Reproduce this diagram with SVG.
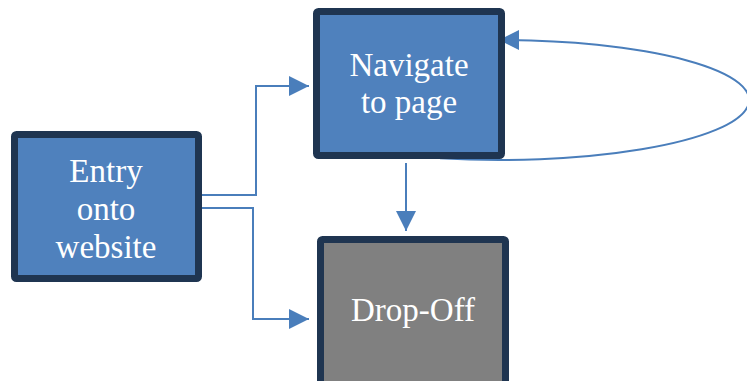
<svg xmlns="http://www.w3.org/2000/svg" width="747" height="381" viewBox="0 0 747 381">
<style>
.box{stroke:#1f3551;stroke-width:7;}
.blue{fill:#4f81bd;}
.grey{fill:#808080;}
.lbl{font-family:"Liberation Serif","Times New Roman",serif;font-size:33px;fill:#ffffff;text-anchor:middle;}
.conn{fill:none;stroke:#4a7ebb;stroke-width:2;marker-end:url(#arr);}
</style>
<defs>
<marker id="arr" markerUnits="userSpaceOnUse" markerWidth="20" markerHeight="20" refX="20" refY="10" orient="auto">
<path d="M0,0 L20,10 L0,20 z" fill="#4a7ebb"/>
</marker>
</defs>
<rect width="747" height="381" fill="#ffffff"/>
<g id="connectors">
<path class="conn" d="M202,195 H256 V86 H309"/>
<path class="conn" d="M199,208 H253 V319 H309"/>
<path class="conn" d="M406,163 V231"/>
<path class="conn" d="M440,158.3 A250,60 0 1 0 499,40"/>
</g>
<g id="entry">
<rect class="box blue" x="14.5" y="134.5" width="184" height="144" rx="2"/>
<text class="lbl" x="106" y="182">Entry</text>
<text class="lbl" x="106" y="220">onto</text>
<text class="lbl" x="106" y="258">website</text>
</g>
<g id="navigate">
<rect class="box blue" x="316.5" y="11.5" width="185" height="144" rx="2"/>
<text class="lbl" x="409" y="76">Navigate</text>
<text class="lbl" x="409" y="113">to page</text>
</g>
<g id="dropoff">
<rect class="box grey" x="320.5" y="239.5" width="185" height="150" rx="2"/>
<text class="lbl" x="413" y="321">Drop-Off</text>
</g>
</svg>
